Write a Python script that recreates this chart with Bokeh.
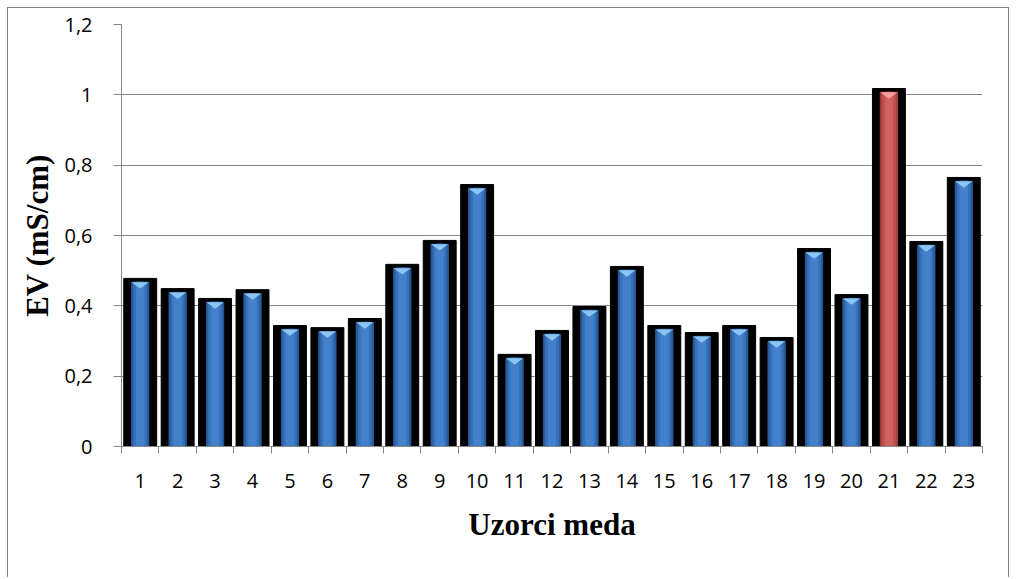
from bokeh.plotting import figure
from bokeh.models import FixedTicker
from bokeh.embed import file_html
from bokeh.resources import INLINE

# uzorci meda i elektricna vodljivost (mS/cm)
samples = list(range(1, 24))
ev = [0.478, 0.449, 0.421, 0.446, 0.344, 0.338, 0.364, 0.518, 0.586, 0.745,
      0.262, 0.330, 0.398, 0.512, 0.344, 0.324, 0.344, 0.310, 0.563, 0.432,
      1.018, 0.583, 0.765]
highlight = 21

y_ticks = [0, 0.2, 0.4, 0.6, 0.8, 1.0, 1.2]
y_labels = ["0", "0,2", "0,4", "0,6", "0,8", "1", "1,2"]

GRAY = "#868686"
edge = "1px solid " + GRAY

p = figure(width=1002, height=570, x_range=(0.5, 23.5), y_range=(0, 1.2),
           output_backend="svg", toolbar_location=None,
           min_border_left=113, min_border_right=28, min_border_top=16, min_border_bottom=132,
           styles={"border-left": edge, "border-top": edge, "border-right": edge,
                   "margin-left": "7px", "margin-top": "7px"})
p.outline_line_color = None
p.xgrid.grid_line_color = None
p.ygrid.grid_line_color = GRAY
p.ygrid.ticker = FixedTicker(ticks=y_ticks)

# crne podloge stupaca
p.vbar(x=samples, top=ev, bottom=0, width=0.88, color="black")

inset = 0.011
blue = [(s, v - inset) for s, v in zip(samples, ev) if s != highlight]
red = [(s, v - inset) for s, v in zip(samples, ev) if s == highlight]

def inner_bars(pairs, shades, tri):
    xs = [a for a, b in pairs]
    tops = [b for a, b in pairs]
    for w, c in shades:
        p.vbar(x=xs, top=tops, bottom=0, width=w, color=c)
    p.patches(xs=[[x - 0.23, x + 0.23, x] for x in xs],
              ys=[[t, t, t - 0.018] for t in tops],
              color=tri, line_color=None)

inner_bars(blue, [(0.46, "#2a5b9c"), (0.34, "#3671b9"), (0.2, "#4381cc")], "#8cc4f2")
inner_bars(red, [(0.46, "#a83f3c"), (0.34, "#c0504d"), (0.2, "#cf625f")], "#f2a09e")

p.yaxis.ticker = FixedTicker(ticks=y_ticks)
p.yaxis.major_label_overrides = dict(zip(y_ticks, y_labels))
p.yaxis.minor_tick_line_color = None
p.yaxis.major_tick_out = 8
p.yaxis.major_tick_in = 0
p.yaxis.major_label_standoff = 21
p.yaxis.axis_label = "EV (mS/cm)"
p.yaxis.axis_label_standoff = 6

p.xaxis.ticker = FixedTicker(ticks=samples, minor_ticks=[i + 0.5 for i in range(0, 24)])
p.xaxis.major_tick_line_color = None
p.xaxis.minor_tick_out = 7
p.xaxis.minor_tick_in = 0
p.xaxis.major_label_standoff = 20
p.xaxis.axis_label = "Uzorci meda"
p.xaxis.axis_label_standoff = 16

for ax in (p.xaxis[0], p.yaxis[0]):
    ax.axis_line_color = GRAY
    ax.major_tick_line_color = GRAY if ax is p.yaxis[0] else None
    ax.minor_tick_line_color = GRAY if ax is p.xaxis[0] else None
    ax.major_label_text_font = "Open Sans"
    ax.major_label_text_font_size = "20px"
    ax.major_label_text_color = "black"
    ax.axis_label_text_font = "Liberation Serif"
    ax.axis_label_text_font_style = "bold"
    ax.axis_label_text_font_size = "31px"
    ax.axis_label_text_color = "black"

open("out.html", "w").write(file_html(p, INLINE))
